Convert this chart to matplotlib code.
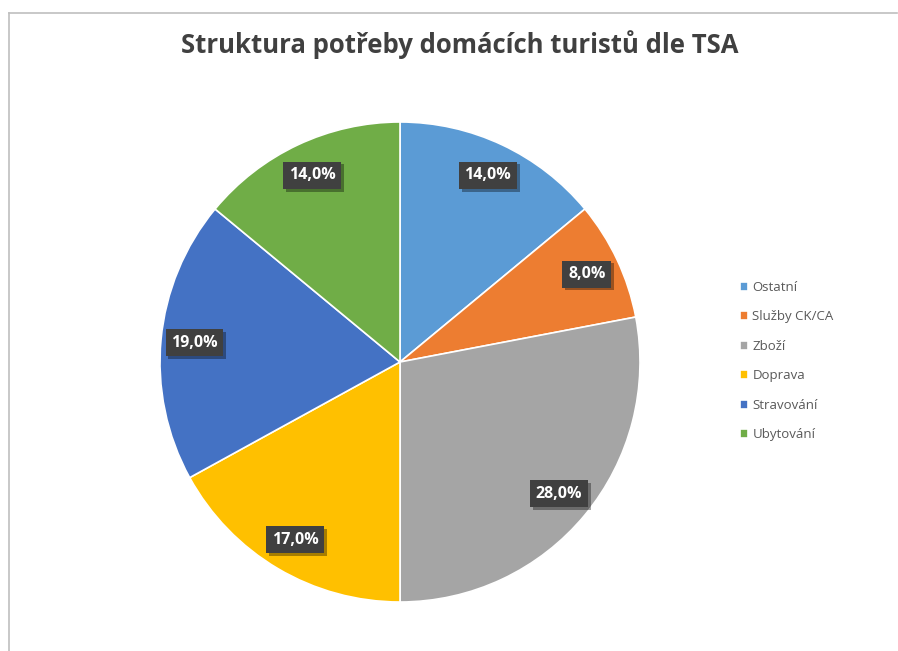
import numpy as np
import matplotlib.pyplot as plt
import matplotlib.patheffects as pe
from matplotlib.lines import Line2D

# Data
categories = ["Ostatní", "Služby CK/CA", "Zboží", "Doprava", "Stravování", "Ubytování"]
shares = [14.0, 8.0, 28.0, 17.0, 19.0, 14.0]
colors = ["#5B9BD5", "#ED7D31", "#A5A5A5", "#FFC000", "#4472C4", "#70AD47"]
title = "Struktura potřeby domácích turistů dle TSA"

plt.rcParams["font.family"] = ["Open Sans", "DejaVu Sans"]

W, H = 898, 651
fig = plt.figure(figsize=(W / 100, H / 100), dpi=100)

# Chart border (light grey)
fig.add_artist(Line2D([8.5 / W, 8.5 / W], [0, 1 - 12.5 / H], color="#BFBFBF", lw=1.2))
fig.add_artist(Line2D([8.5 / W, 897 / W], [1 - 12.5 / H, 1 - 12.5 / H], color="#BFBFBF", lw=1.2))

# Pie axes: centre (400, 362), radius 240 px
cx, cy, r = 400, 362, 240
ax = fig.add_axes([(cx - r) / W, (H - cy - r) / H, 2 * r / W, 2 * r / H])
wedges, _ = ax.pie(
    shares,
    colors=colors,
    startangle=90,
    counterclock=False,
    radius=1,
    wedgeprops=dict(edgecolor="white", linewidth=1.2),
)
ax.set_xlim(-1, 1)
ax.set_ylim(-1, 1)
ax.set_aspect("equal")
ax.axis("off")

# Data labels
total = sum(shares)
angle = 90.0
for val in shares:
    span = val / total * 360
    mid = np.deg2rad(angle - span / 2)
    angle -= span
    x, y = 0.86 * np.cos(mid), 0.86 * np.sin(mid)
    lab = f"{val:.1f}%".replace(".", ",")
    t = ax.text(x, y, lab, ha="center", va="center", fontsize=11.5, fontweight="bold",
                color="white",
                bbox=dict(boxstyle="square,pad=0.35", facecolor="#404040", edgecolor="none"))
    t.get_bbox_patch().set_path_effects(
        [pe.SimplePatchShadow(offset=(2, -2), shadow_rgbFace="black", alpha=0.35), pe.Normal()]
    )

fig.text(460 / W, 1 - 45 / H, title, ha="center", va="center", fontsize=18.5,
         fontweight="bold", color="#404040")

fig.legend(
    wedges,
    categories,
    loc="center left",
    bbox_to_anchor=(728 / W, 1 - 361 / H),
    frameon=False,
    fontsize=9.5,
    handlelength=0.65,
    handleheight=0.65,
    handletextpad=0.3,
    labelspacing=1.25,
    labelcolor="#595959",
)

fig.savefig("out.png", dpi=100)
